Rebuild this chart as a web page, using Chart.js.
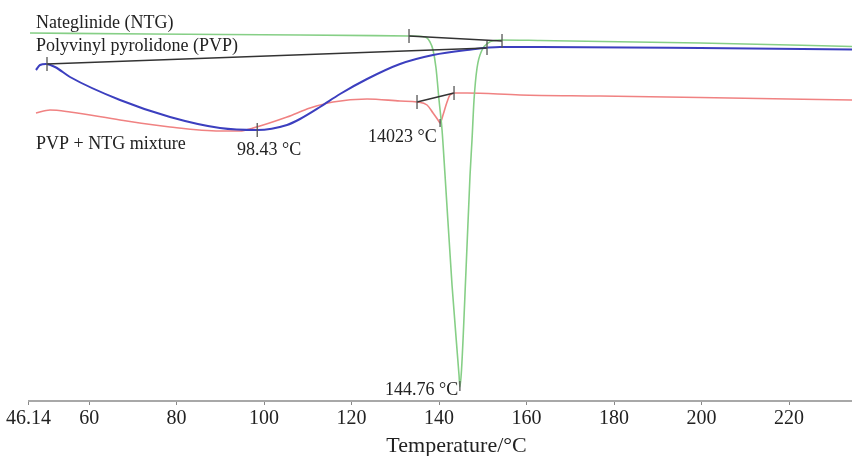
<!DOCTYPE html>
<html>
<head>
<meta charset="utf-8">
<script src="https://cdn.jsdelivr.net/npm/chart.js@4.4.1/dist/chart.umd.min.js"></script>
<style>
  html, body { margin: 0; padding: 0; background: #fff; }
  canvas { display: block; }
</style>
</head>
<body>
<canvas id="dscChart" width="852" height="456"></canvas>
<script>
// DSC thermograms, heat flow in arbitrary units (endo down)

// x axis ticks (°C)
const xTickValues = [46.14, 60, 80, 100, 120, 140, 160, 180, 200, 220];

// Nateglinide (NTG)
const ntgTemp = [46.48, 73.92, 108.21, 133.13, 136.79, 137.93, 138.62, 139.3, 139.99, 140.68, 141.36, 142.96, 144.56, 144.76, 145.13, 146.16, 147.08, 147.53, 147.99, 148.68, 149.82, 151.19, 153.94, 163.08, 199.66, 234.4];
const ntgFlow = [37.0, 36.9, 36.8, 36.7, 36.6, 36.1, 35.3, 33.5, 30.3, 27.3, 22.8, 11.8, 2.8, 1.6, 3.3, 13.3, 22.8, 26.3, 30.3, 33.5, 35.3, 36.0, 36.3, 36.25, 36.0, 35.65];

// Polyvinyl pyrolidone (PVP)
const pvpTemp = [47.85, 48.77, 50.14, 52.2, 55.63, 67.06, 78.49, 89.92, 98.43, 105.24, 108.21, 112.78, 117.36, 123.53, 131.07, 138.62, 146.39, 153.94, 163.08, 199.66, 234.4];
const pvpFlow = [33.3, 33.8, 33.9, 33.6, 32.6, 30.3, 28.6, 27.5, 27.3, 27.8, 28.4, 29.6, 30.9, 32.4, 33.9, 34.8, 35.3, 35.6, 35.6, 35.5, 35.35];

// PVP + NTG mixture
const mixTemp = [47.85, 51.06, 55.63, 67.06, 78.49, 89.92, 94.49, 97.47, 105.24, 110.5, 115.76, 123.53, 131.07, 134.96, 137.25, 138.62, 139.76, 140.23, 140.9, 141.82, 142.5, 143.65, 146.39, 158.51, 176.8, 199.66, 234.4];
const mixFlow = [29.0, 29.3, 29.1, 28.3, 27.6, 27.2, 27.2, 27.5, 28.6, 29.5, 30.1, 30.4, 30.2, 30.1, 29.8, 29.0, 28.3, 28.0, 28.8, 30.1, 30.8, 31.0, 31.0, 30.8, 30.7, 30.55, 30.3];

// onset tangent lines [start, end]
const pvpTangentTemp = [50.37, 150.96];
const pvpTangentFlow = [33.9, 35.5];
const ntgTangentTemp = [133.13, 154.39];
const ntgTangentFlow = [36.7, 36.2];
const mixTangentTemp = [134.96, 143.42];
const mixTangentFlow = [30.1, 31.0];

// short vertical markers (tangent ends and peaks)
const markTemp = [50.37, 150.96, 133.13, 154.39, 134.96, 143.42, 98.43, 140.23, 144.76];
const markFlow = [33.9, 35.5, 36.7, 36.2, 30.1, 31.0, 27.3, 28.0, 1.7];
const markSize = [7, 7, 7, 7, 7, 7, 7, 4, 5];

// text on the plot
const noteTexts = ['Nateglinide (NTG)', 'Polyvinyl pyrolidone (PVP)', 'PVP + NTG mixture', '98.43 °C', '14023 °C', '144.76 °C'];
const noteTemp = [47.85, 47.85, 47.85, 93.81, 123.76, 127.65];
const noteFlow = [37.5, 35.2, 25.4, 24.8, 26.1, 0.8];

const toPoints = (xs, ys) => xs.map((x, i) => ({ x: x, y: ys[i] }));

const SERIF = '"Liberation Serif", "Times New Roman", serif';

const tangentStyle = {
    type: 'line',
    borderColor: '#333',
    borderWidth: 1.6,
    pointRadius: 0,
    tension: 0
};

const curveStyle = {
    type: 'line',
    pointRadius: 0,
    cubicInterpolationMode: 'monotone'
};

// plot texts + axis title
const notesPlugin = {
    id: 'notes',
    afterDatasetsDraw(chart) {
        const ctx = chart.ctx;
        const xs = chart.scales.x;
        const ys = chart.scales.y;
        ctx.save();
        ctx.fillStyle = '#222';
        ctx.textBaseline = 'alphabetic';
        ctx.textAlign = 'left';
        ctx.font = '18px ' + SERIF;
        noteTexts.forEach((t, i) => {
            ctx.fillText(t, xs.getPixelForValue(noteTemp[i]), ys.getPixelForValue(noteFlow[i]));
        });
        ctx.font = '22px ' + SERIF;
        ctx.textAlign = 'center';
        ctx.fillText('Temperature/°C', xs.getPixelForValue(144), 452);
        ctx.restore();
    }
};

new Chart(document.getElementById('dscChart'), {
    data: {
        datasets: [
            {
                type: 'scatter',
                data: toPoints(markTemp, markFlow),
                pointStyle: 'line',
                rotation: 90,
                pointRadius: markSize,
                borderColor: '#555',
                borderWidth: 1.3
            },
            { ...tangentStyle, data: toPoints(pvpTangentTemp, pvpTangentFlow) },
            { ...tangentStyle, data: toPoints(ntgTangentTemp, ntgTangentFlow) },
            { ...tangentStyle, data: toPoints(mixTangentTemp, mixTangentFlow) },
            { ...curveStyle, label: 'PVP', data: toPoints(pvpTemp, pvpFlow), borderColor: '#3c3fbf', borderWidth: 2 },
            { ...curveStyle, label: 'NTG', data: toPoints(ntgTemp, ntgFlow), borderColor: '#86cf86', borderWidth: 1.6 },
            { ...curveStyle, label: 'PVP + NTG', data: toPoints(mixTemp, mixFlow), borderColor: '#f08282', borderWidth: 1.6 }
        ]
    },
    options: {
        responsive: false,
        animation: false,
        devicePixelRatio: 1,
        layout: { autoPadding: false, padding: { left: 28.5, right: 0, top: 0, bottom: 23 } },
        plugins: {
            legend: { display: false },
            tooltip: { enabled: false }
        },
        scales: {
            x: {
                type: 'linear',
                min: 46.14,
                max: 234.4,
                afterBuildTicks: (scale) => {
                    scale.ticks = xTickValues.map(v => ({ value: v }));
                },
                grid: { drawOnChartArea: false, drawTicks: true, tickLength: 4, color: '#888' },
                border: { display: true, color: '#a8a8a8', width: 2 },
                ticks: {
                    autoSkip: false,
                    maxRotation: 0,
                    padding: 2,
                    color: '#222',
                    font: { family: SERIF, size: 20 },
                    callback: (v) => String(v)
                }
            },
            y: {
                display: false,
                min: 0.2,
                max: 40.3
            }
        }
    },
    plugins: [notesPlugin]
});
</script>
</body>
</html>
